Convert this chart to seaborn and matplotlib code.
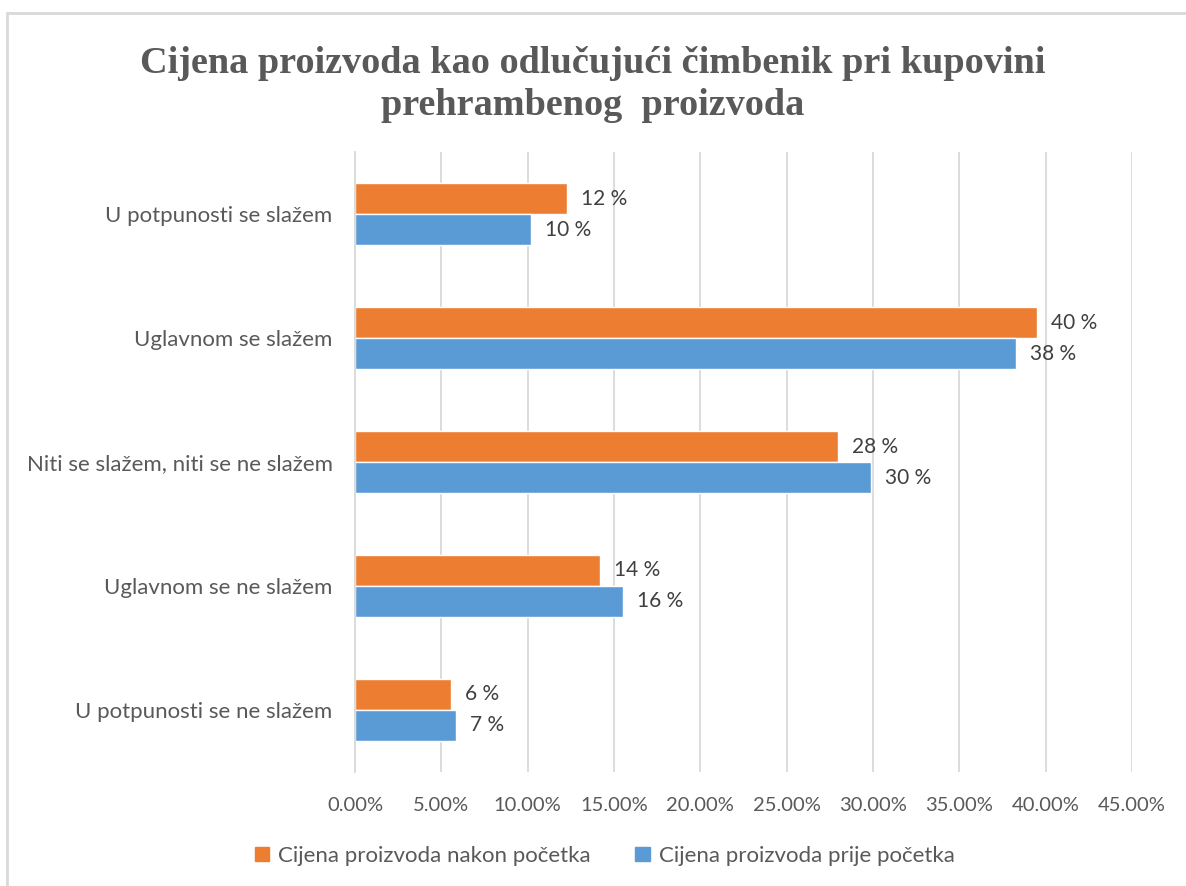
import matplotlib
matplotlib.use('Agg')
import matplotlib.pyplot as plt
import matplotlib.lines as mlines
import matplotlib.ticker as mtick
import pandas as pd
import seaborn as sns

# data
categories = ['U potpunosti se slažem', 'Uglavnom se slažem',
              'Niti se slažem, niti se ne slažem', 'Uglavnom se ne slažem',
              'U potpunosti se ne slažem']
series_names = ['Cijena proizvoda nakon početka', 'Cijena proizvoda prije početka']
after_vals = [0.1227, 0.395, 0.280, 0.142, 0.0558]
before_vals = [0.102, 0.383, 0.299, 0.155, 0.0583]
after_labels = ['12 %', '40 %', '28 %', '14 %', '6 %']
before_labels = ['10 %', '38 %', '30 %', '16 %', '7 %']
colors = ['#ED7D31', '#5B9BD5']

df = pd.DataFrame({
    'cat': categories * 2,
    'series': [series_names[0]] * 5 + [series_names[1]] * 5,
    'val': after_vals + before_vals,
})

sns.set_style('white')
plt.rcParams['font.family'] = ['Lato', 'DejaVu Sans']

fig = plt.figure(figsize=(11.86, 8.86), dpi=100)
ax = fig.add_axes([0.2993, 0.1287, 0.6552, 0.6997])

sns.barplot(data=df, y='cat', x='val', hue='series', order=categories,
            hue_order=series_names, palette=colors, orient='h',
            width=0.5, saturation=1, ax=ax, legend=False)

# data labels
for cont, labs in zip(ax.containers, [after_labels, before_labels]):
    ax.bar_label(cont, labels=labs, padding=10, fontsize=15, color='#404040')

ax.set_xlim(0, 0.45)
ax.set_xticks([i * 0.05 for i in range(10)])
ax.xaxis.set_major_formatter(mtick.PercentFormatter(1.0, decimals=2))
ax.grid(axis='x', color='#D9D9D9', linewidth=1.3)
ax.set_axisbelow(True)
for s in ['top', 'right', 'bottom']:
    ax.spines[s].set_visible(False)
ax.spines['left'].set_color('#D9D9D9')
ax.spines['left'].set_linewidth(1.3)
ax.set_xlabel('')
ax.set_ylabel('')
ax.tick_params(axis='x', labelsize=14.5, labelcolor='#595959', length=0, pad=18)
ax.tick_params(axis='y', labelsize=16, labelcolor='#595959', length=0, pad=16)

fig.text(0.5, 0.905, 'Cijena proizvoda kao odlučujući čimbenik pri kupovini\nprehrambenog  proizvoda',
         ha='center', va='center', fontsize=27.5, fontweight='bold',
         family=['Liberation Serif', 'DejaVu Serif'], color='#595959',
         linespacing=1.25)

# legend
handles = [plt.Rectangle((0, 0), 1, 1, color=c) for c in colors]
fig.legend(handles, series_names, loc='center', bbox_to_anchor=(0.51, 0.034),
           ncol=2, frameon=False, fontsize=16, labelcolor='#595959',
           handlelength=0.65, handleheight=0.65, handletextpad=0.4,
           columnspacing=2.0)

# chart border
bc = '#D9D9D9'
fig.add_artist(mlines.Line2D([7 / 1186, 1.0], [1 - 13 / 886, 1 - 13 / 886],
                             color=bc, linewidth=2, transform=fig.transFigure))
fig.add_artist(mlines.Line2D([7 / 1186, 7 / 1186], [0, 1 - 13 / 886],
                             color=bc, linewidth=2, transform=fig.transFigure))

fig.savefig('out.png', dpi=100, facecolor='white')
